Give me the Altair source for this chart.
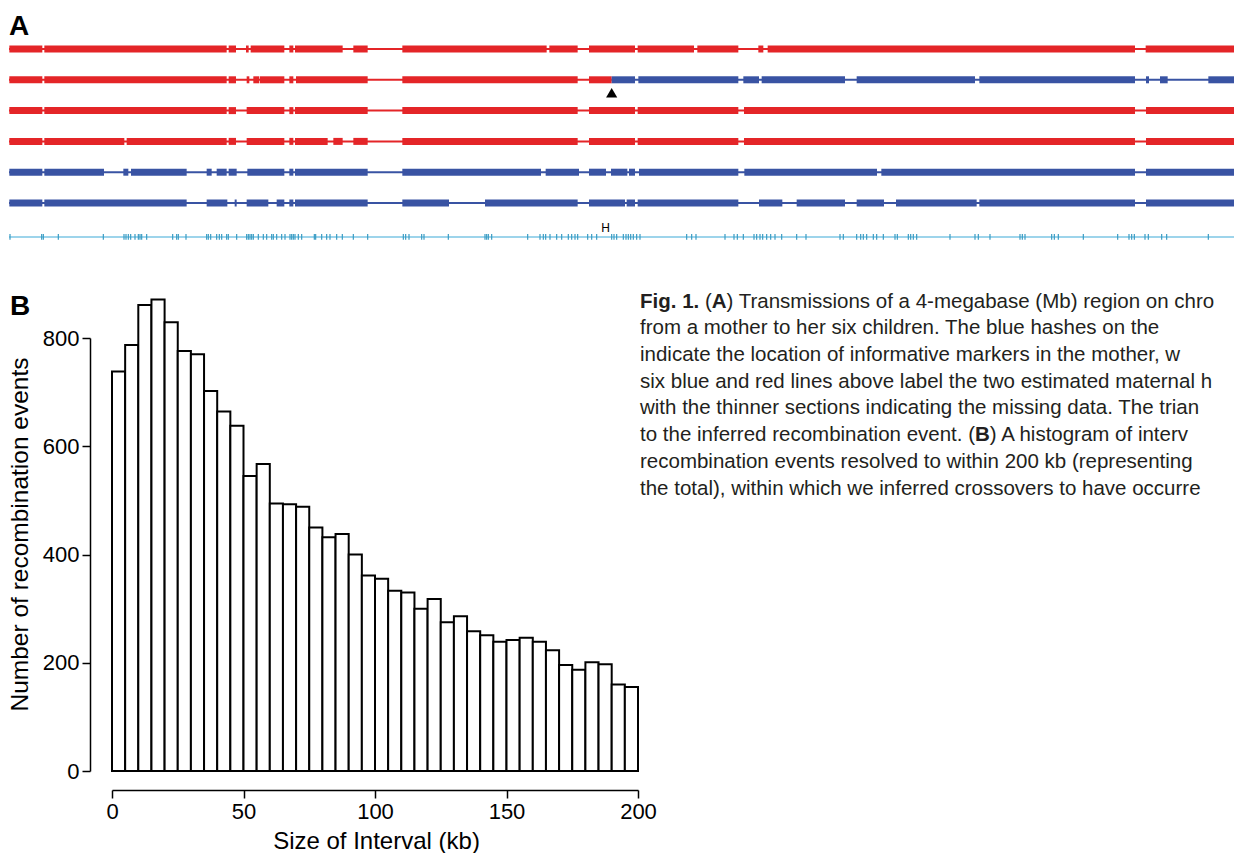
import altair as alt
import pandas as pd

W, H = 1234, 853
FONT = "Liberation Sans, Arial, Helvetica, sans-serif"
RED = "#e42528"
BLUE = "#3953a3"
MARK_LINE = "#7cc6e4"
MARK_TICK = "#3a9cc4"

# ---------------- Panel A: haplotype tracks (positions in kb) ----------------
track1_red = [[1, 100], [106, 653], [659, 681], [711, 719], [725, 826], [841, 853], [858, 1001],
              [1033, 1076], [1180, 1613], [1621, 1706], [1740, 1878], [1886, 2055], [2065, 2188],
              [2248, 2263], [2276, 3378], [3410, 3675]]
track2_red = [[1, 100], [106, 653], [659, 681], [713, 721], [733, 751], [753, 826], [841, 853],
              [861, 1076], [1180, 1706], [1740, 1808]]
track2_blue = [[1808, 1878], [1888, 2188], [2203, 2250], [2258, 2508], [2543, 2898], [2911, 3378],
               [3411, 3420], [3453, 3476], [3598, 3675]]
track3_red = [[1, 100], [106, 653], [659, 681], [713, 826], [841, 853], [858, 1076], [1180, 1706],
              [1740, 1878], [1886, 2188], [2205, 3378], [3411, 3675]]
track4_red = [[1, 100], [106, 346], [353, 653], [659, 681], [713, 826], [841, 853], [858, 956],
              [973, 1001], [1033, 1076], [1180, 1706], [1740, 1878], [1886, 2188], [2205, 3378],
              [3411, 3675]]
track5_blue = [[1, 100], [106, 285], [343, 358], [366, 533], [593, 608], [623, 653], [659, 683],
               [715, 826], [841, 853], [858, 1076], [1180, 1596], [1610, 1710], [1740, 1791],
               [1806, 1855], [1860, 1878], [1890, 2188], [2206, 2604], [2617, 3378], [3411, 3675]]
track6_blue = [[1, 100], [106, 533], [593, 655], [677, 683], [713, 778], [803, 826], [841, 853],
               [858, 1076], [1180, 1320], [1428, 1706], [1740, 1848], [1853, 1878], [1886, 2188],
               [2250, 2320], [2363, 2508], [2543, 2625], [2661, 2903], [2911, 3378], [3411, 3675]]
# thin (missing-data) background lines: track, haplotype, start, end
thin_tracks = [1, 2, 2, 3, 4, 5, 6]
thin_haps = ["red", "red", "blue", "red", "red", "blue", "blue"]
thin_start = [0, 0, 1808, 0, 0, 0, 0]
thin_end = [3675, 1808, 3675, 3675, 3675, 3675, 3675]

markers_kb = [3, 98, 103, 148, 283, 345, 351, 358, 365, 378, 388, 393, 398, 413, 491, 503, 508, 531,
              593, 598, 605, 623, 631, 638, 653, 658, 683, 713, 718, 723, 728, 733, 748, 763, 773,
              788, 793, 803, 818, 828, 843, 848, 853, 858, 868, 878, 916, 920, 938, 953, 963, 983,
              1000, 1033, 1076, 1183, 1190, 1200, 1238, 1245, 1318, 1428, 1433, 1438, 1448, 1556,
              1593, 1603, 1610, 1623, 1643, 1658, 1678, 1688, 1698, 1706, 1736, 1748, 1763, 1808,
              1815, 1823, 1843, 1851, 1858, 1865, 1873, 1883, 1893, 2033, 2048, 2061, 2148, 2175,
              2185, 2203, 2235, 2243, 2253, 2261, 2273, 2285, 2298, 2318, 2363, 2391, 2493, 2503,
              2543, 2555, 2563, 2573, 2593, 2603, 2623, 2658, 2665, 2698, 2705, 2713, 2723, 2823,
              2898, 2908, 2943, 3033, 3040, 3048, 3128, 3136, 3148, 3223, 3326, 3360, 3368, 3376,
              3408, 3418, 3458, 3473, 3598]
crossover_kb = [1808]
interval_kb = [1790]

# ---------------- Panel B: histogram ----------------
bin_start = list(range(0, 200, 5))
counts = [738, 787, 861, 871, 829, 776, 770, 702, 664, 638,
          545, 567, 494, 493, 488, 450, 432, 438, 400, 361,
          355, 333, 330, 300, 318, 275, 286, 258, 251, 239,
          242, 246, 239, 223, 196, 187, 201, 197, 160, 155]
x_ticks = [0, 50, 100, 150, 200]
y_ticks = [0, 200, 400, 600, 800]

# ---------------- Caption ----------------
caption_lines = [
    "Fig. 1. (A) Transmissions of a 4-megabase (Mb) region on chro",
    "from a mother to her six children. The blue hashes on the",
    "indicate the location of informative markers in the mother, w",
    "six blue and red lines above label the two estimated maternal h",
    "with the thinner sections indicating the missing data. The trian",
    "to the inferred recombination event. (B) A histogram of interv",
    "recombination events resolved to within 200 kb (representing",
    "the total), within which we inferred crossovers to have occurre",
]

# ---------------- build tables ----------------
rows = []
for trk, hap, segs in [(1, "red", track1_red), (2, "red", track2_red), (2, "blue", track2_blue),
                       (3, "red", track3_red), (4, "red", track4_red), (5, "blue", track5_blue),
                       (6, "blue", track6_blue)]:
    for s, e in segs:
        rows.append(dict(track=trk, hap=hap, start=s, end=e))
thick_df = pd.DataFrame(rows)
thin_df = pd.DataFrame(dict(track=thin_tracks, hap=thin_haps, start=thin_start, end=thin_end))
MARK_TRACK = 7.1
mark_df = pd.DataFrame(dict(pos=markers_kb, y0=[MARK_TRACK - 0.09] * len(markers_kb),
                            y1=[MARK_TRACK + 0.09] * len(markers_kb)))
markline_df = pd.DataFrame(dict(start=[0], end=[3675], track=[MARK_TRACK]))
tri_df = pd.DataFrame(dict(pos=crossover_kb, track=[2.42]))
h_df = pd.DataFrame(dict(pos=interval_kb, track=[6.8], t=["H"]))
hist_df = pd.DataFrame(dict(start=bin_start, end=[b + 5 for b in bin_start], count=counts))

xA = alt.Scale(domain=[0, 3675], range=[9, 1234], nice=False, zero=False)
yA = alt.Scale(domain=[1, 6], range=[49, 203], nice=False, zero=False)
colA = alt.Scale(domain=["red", "blue"], range=[RED, BLUE])

thin = alt.Chart(thin_df).mark_rule(strokeWidth=2, strokeCap="butt").encode(
    x=alt.X("start:Q", scale=xA, axis=None), x2="end:Q",
    y=alt.Y("track:Q", scale=yA, axis=None),
    color=alt.Color("hap:N", scale=colA, legend=None))
thick = alt.Chart(thick_df).mark_rule(strokeWidth=7, strokeCap="butt").encode(
    x=alt.X("start:Q", scale=xA, axis=None), x2="end:Q",
    y=alt.Y("track:Q", scale=yA, axis=None),
    color=alt.Color("hap:N", scale=colA, legend=None))
markline = alt.Chart(markline_df).mark_rule(strokeWidth=1.5, color=MARK_LINE).encode(
    x=alt.X("start:Q", scale=xA, axis=None), x2="end:Q",
    y=alt.Y("track:Q", scale=yA, axis=None))
marks = alt.Chart(mark_df).mark_rule(strokeWidth=1.2, color=MARK_TICK).encode(
    x=alt.X("pos:Q", scale=xA, axis=None),
    y=alt.Y("y0:Q", scale=yA, axis=None), y2="y1:Q")
tri = alt.Chart(tri_df).mark_point(shape="triangle-up", filled=True, color="black", size=125, opacity=1).encode(
    x=alt.X("pos:Q", scale=xA, axis=None), y=alt.Y("track:Q", scale=yA, axis=None))
hmark = alt.Chart(h_df).mark_text(font=FONT, fontSize=12, color="black", baseline="middle").encode(
    x=alt.X("pos:Q", scale=xA, axis=None), y=alt.Y("track:Q", scale=yA, axis=None), text="t:N")

xB = alt.Scale(domain=[0, 200], range=[112, 638], nice=False, zero=False)
yB = alt.Scale(domain=[0, 800], range=[771, 338], nice=False, zero=False)
bars = alt.Chart(hist_df).mark_rect(fill="white", stroke="black", strokeWidth=2).encode(
    x=alt.X("start:Q", scale=xB, axis=alt.Axis(
        orient="bottom", offset=-63, values=x_ticks, title="Size of Interval (kb)", grid=False,
        domainColor="black", domainWidth=1.5, tickColor="black", tickWidth=1.5, tickSize=8,
        labelFont=FONT, labelFontSize=22, labelColor="black", labelPadding=3, labelFlush=False,
        labelOverlap=False, titleFont=FONT, titleFontSize=24, titleFontWeight="normal",
        titleColor="black", titleX=376, titleY=58, titleBaseline="alphabetic")),
    x2="end:Q",
    y=alt.Y("count:Q", scale=yB, axis=alt.Axis(
        orient="left", offset=-90, values=y_ticks, title="Number of recombination events", grid=False,
        domainColor="black", domainWidth=1.5, tickColor="black", tickWidth=1.5, tickSize=8,
        labelFont=FONT, labelFontSize=22, labelColor="black", labelPadding=3, labelFlush=False,
        labelOverlap=False, titleFont=FONT, titleFontSize=24.5, titleFontWeight="normal",
        titleColor="black", titleAngle=270, titleX=-63, titleY=534, titleAlign="center",
        titleBaseline="alphabetic")),
    y2=alt.datum(0))

# ---------------- caption pieces (bold letters placed with Arial metrics) ----------------
REG = dict(zip("ABCDEFGHIJKLMNOPQRSTUVWXYZ",
               [667, 667, 722, 722, 667, 611, 778, 722, 278, 500, 667, 556, 833, 722, 778, 667, 778,
                722, 667, 611, 722, 667, 944, 667, 667, 611]))
REG.update(dict(zip("abcdefghijklmnopqrstuvwxyz",
                    [556, 556, 500, 556, 556, 278, 556, 556, 222, 222, 500, 222, 833, 556, 556, 556,
                     556, 333, 500, 278, 556, 500, 722, 500, 500, 500])))
REG.update({c: 556 for c in "0123456789"})
REG.update({" ": 278, ".": 278, ",": 278, "(": 333, ")": 333, "-": 333})
BOLD = {"F": 611, "i": 278, "g": 611, ".": 278, " ": 278, "1": 556, "A": 722, "B": 722}
CFS = 20.5


def tw(s, bold=False):
    table = BOLD if bold else REG
    return sum(table.get(c, 556) for c in s) / 1000.0 * CFS


normal_rows, bold_rows = [], []
# line 0
o = 0.0
bold_rows.append(dict(line=0, xo=o, t="Fig. 1."))
o += tw("Fig. 1. ", True)
normal_rows.append(dict(line=0, xo=o, t="("))
o += tw("(")
bold_rows.append(dict(line=0, xo=o, t="A"))
o += tw("A", True)
normal_rows.append(dict(line=0, xo=o, t=caption_lines[0][len("Fig. 1. (A"):]))
# line 5
pre, post = caption_lines[5].split("(B")
normal_rows.append(dict(line=5, xo=0.0, t=pre + "("))
o = tw(pre + "(")
bold_rows.append(dict(line=5, xo=o, t="B"))
o += tw("B", True)
normal_rows.append(dict(line=5, xo=o, t=post))
for i, ln in enumerate(caption_lines):
    if i not in (0, 5):
        normal_rows.append(dict(line=i, xo=0.0, t=ln))

xC = alt.Scale(domain=[0, 594], range=[640, 1234], nice=False, zero=False)
yC = alt.Scale(domain=[0, 7], range=[307.5, 494.5], nice=False, zero=False)
cap_norm = alt.Chart(pd.DataFrame(normal_rows)).mark_text(
    font=FONT, fontSize=CFS, color="#231f20", align="left", baseline="alphabetic").encode(
    x=alt.X("xo:Q", scale=xC, axis=None), y=alt.Y("line:Q", scale=yC, axis=None), text="t:N")
cap_bold = alt.Chart(pd.DataFrame(bold_rows)).mark_text(
    font=FONT, fontSize=CFS, fontWeight="bold", color="#231f20", align="left",
    baseline="alphabetic").encode(
    x=alt.X("xo:Q", scale=xC, axis=None), y=alt.Y("line:Q", scale=yC, axis=None), text="t:N")

letA = alt.Chart(pd.DataFrame(dict(t=["A"]))).mark_text(
    font=FONT, fontSize=28, fontWeight="bold", color="black", align="left", baseline="alphabetic").encode(
    text="t:N", x=alt.value(9), y=alt.value(35))
letB = alt.Chart(pd.DataFrame(dict(t=["B"]))).mark_text(
    font=FONT, fontSize=28, fontWeight="bold", color="black", align="left", baseline="alphabetic").encode(
    text="t:N", x=alt.value(10), y=alt.value(315))

chart = alt.layer(thin, thick, markline, marks, tri, hmark, bars, cap_norm, cap_bold, letA, letB).resolve_scale(
    x="independent", y="independent", color="independent"
).properties(
    width=W, height=H, autosize=alt.AutoSizeParams(type="none"), padding=0, background="white"
).configure_view(stroke=None)

chart.save("out.html", embed_options={"renderer": "svg", "actions": False})
